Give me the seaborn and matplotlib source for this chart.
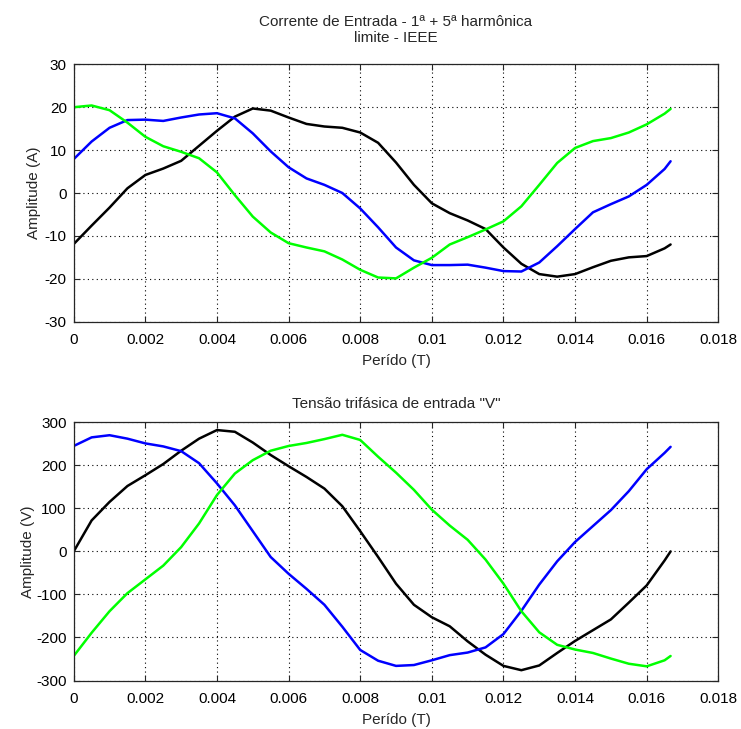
import numpy as np
import pandas as pd
import matplotlib
matplotlib.use("Agg")
import matplotlib.pyplot as plt
import seaborn as sns

# time axis (s)
t = [0, 0.0005, 0.001, 0.0015, 0.002, 0.0025, 0.003, 0.0035, 0.004, 0.0045,
     0.005, 0.0055, 0.006, 0.0065, 0.007, 0.0075, 0.008, 0.0085, 0.009, 0.0095,
     0.01, 0.0105, 0.011, 0.0115, 0.012, 0.0125, 0.013, 0.0135, 0.014, 0.0145,
     0.015, 0.0155, 0.016, 0.0165, 0.016667]

# Current (A)
i_black = [-11.9, -7.6, -3.4, 1.1, 4.2, 5.7, 7.5, 11.0, 14.5, 17.8,
           19.7, 19.2, 17.6, 16.1, 15.5, 15.2, 14.1, 11.7, 7.1, 1.9,
           -2.4, -4.7, -6.4, -8.4, -12.7, -16.5, -18.9, -19.5, -18.9, -17.3,
           -15.8, -15.0, -14.7, -12.9, -12.0]
i_blue = [7.9, 12.0, 15.2, 17.0, 17.1, 16.8, 17.6, 18.3, 18.6, 17.4,
          13.9, 9.7, 6.0, 3.4, 1.9, 0.0, -3.6, -8.0, -12.7, -15.7,
          -16.8, -16.8, -16.7, -17.4, -18.2, -18.3, -16.2, -12.4, -8.4, -4.5,
          -2.6, -0.8, 1.9, 5.6, 7.4]
i_green = [20.0, 20.4, 19.3, 16.4, 13.1, 10.9, 9.6, 8.1, 4.8, -0.5,
           -5.5, -9.2, -11.7, -12.7, -13.6, -15.5, -17.9, -19.7, -19.9, -17.4,
           -15.1, -12.0, -10.3, -8.5, -6.6, -3.1, 1.9, 7.0, 10.5, 12.1,
           12.8, 14.1, 16.0, 18.5, 19.6]

# Voltage (V)
v_black = [0, 72, 115, 152, 177, 203, 234, 262, 282, 278,
           253, 224, 198, 173, 146, 105, 47, -13, -75, -124,
           -153, -174, -209, -240, -266, -276, -265, -236, -208, -183,
           -158, -119, -79, -21, 0]
v_blue = [245, 265, 270, 262, 251, 244, 233, 205, 158, 107,
          47, -13, -52, -87, -124, -175, -229, -254, -266, -264,
          -253, -241, -235, -223, -192, -138, -77, -23, 22, 59,
          96, 140, 191, 229, 243]
v_green = [-243, -189, -139, -97, -65, -33, 10, 65, 131, 181,
           212, 234, 245, 252, 261, 271, 259, 220, 183, 143,
           97, 60, 27, -19, -75, -139, -188, -217, -228, -236,
           -249, -261, -267, -253, -243]

phases = ["a", "b", "c"]
colors = {"a": "#000000", "b": "#0000ff", "c": "#00ff00"}

xticks = [0, 0.002, 0.004, 0.006, 0.008, 0.01, 0.012, 0.014, 0.016, 0.018]
xticklabels = ["0", "0.002", "0.004", "0.006", "0.008", "0.01", "0.012", "0.014", "0.016", "0.018"]
yticks_i = [-30, -20, -10, 0, 10, 20, 30]
yticks_v = [-300, -200, -100, 0, 100, 200, 300]

def long_df(series):
    frames = []
    for ph, vals in zip(phases, series):
        frames.append(pd.DataFrame({"t": t, "v": vals, "phase": ph}))
    return pd.concat(frames, ignore_index=True)

df_i = long_df([i_black, i_blue, i_green])
df_v = long_df([v_black, v_blue, v_green])

sns.set_style("white")
plt.rcParams["font.family"] = ["Liberation Sans", "DejaVu Sans"]
plt.rcParams["font.size"] = 11

fig = plt.figure(figsize=(7.41, 7.29), dpi=100)
ax1 = fig.add_axes([0.0995, 0.5587, 0.8699, 0.3531])
ax2 = fig.add_axes([0.0995, 0.0665, 0.8699, 0.3542])

def style(ax, yticks, ylim):
    ax.set_xlim(0, 0.018)
    ax.set_ylim(*ylim)
    ax.set_xticks(xticks)
    ax.set_xticklabels(xticklabels)
    ax.set_yticks(yticks)
    ax.set_yticklabels([str(y) for y in yticks])
    ax.grid(True, color="black", linestyle=(0, (1, 3)), linewidth=0.8)
    ax.tick_params(direction="in", length=4, width=0.8, top=True, right=True,
                   bottom=True, left=True, labelsize=11, colors="#262626",
                   labelcolor="black")
    ax.tick_params(axis="x", pad=8)
    ax.tick_params(axis="y", pad=5)
    for s in ax.spines.values():
        s.set_visible(True)
        s.set_color("#262626")
        s.set_linewidth(0.9)
    ax.set_facecolor("white")

sns.lineplot(data=df_i, x="t", y="v", hue="phase", palette=colors, ax=ax1,
             legend=False, sort=False, estimator=None, linewidth=1.8)
style(ax1, yticks_i, (-30, 30))
ax1.set_title("Corrente de Entrada - 1ª + 5ª harmônica\nlimite - IEEE", fontsize=11, pad=16)
ax1.set_xlabel("Perído (T)", fontsize=11, labelpad=5)
ax1.set_ylabel("Amplitude (A)", fontsize=11, labelpad=3)

sns.lineplot(data=df_v, x="t", y="v", hue="phase", palette=colors, ax=ax2,
             legend=False, sort=False, estimator=None, linewidth=1.8)
style(ax2, yticks_v, (-300, 300))
ax2.set_title('Tensão trifásica de entrada "V"', fontsize=11, pad=10.5)
ax2.set_xlabel("Perído (T)", fontsize=11, labelpad=5)
ax2.set_ylabel("Amplitude (V)", fontsize=11, labelpad=1)

fig.savefig("out.png", dpi=100, facecolor="white")
